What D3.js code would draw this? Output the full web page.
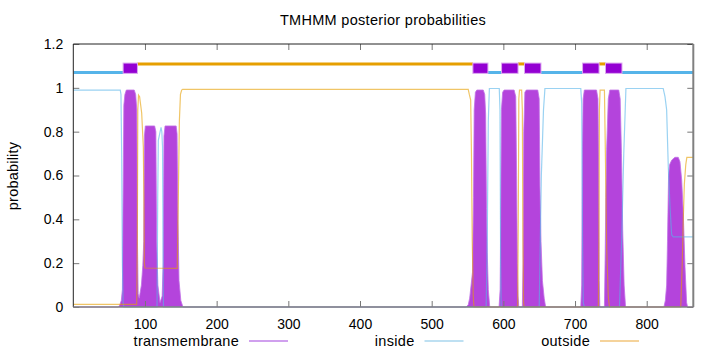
<!DOCTYPE html>
<html><head><meta charset="utf-8">
<script src="https://cdn.jsdelivr.net/npm/d3@7"></script>
<style>html,body{margin:0;padding:0;background:#fff;}svg{display:block;font-family:"Liberation Sans",Arial,sans-serif;}</style>
</head><body>
<svg id="c" width="720" height="352"></svg>
<script>
// ---- data ----
const titleText = "TMHMM posterior probabilities";
const yLabel = "probability";
const xTicks = [100,200,300,400,500,600,700,800];
const yTicks = [0,0.2,0.4,0.6,0.8,1,1.2];
const seqLength = 865;
const legendLabels = ["transmembrane","inside","outside"];

// transmembrane posterior (residue, probability)
const tmPos = [0,63,65,67,68.5,69.5,70.5,72,74,85,87,88.6,89.5,90.5,92,95,97,98.3,99.2,100.5,113.5,115.2,116.3,118,121,124,125.4,126.5,128,143.5,144.8,146,147.5,150,153,
  548,551,553,555,557,558.3,559.3,561,563,572,574,575.3,576.5,577.5,579,581,
  594,595.5,596.3,597.3,599,601,615,617.3,618.5,619.5,620.5,621.5,
  626.5,627.5,628.5,630,632,648,650,651,652.5,654.5,657,659,
  708,709.3,710.3,711.3,713,730,732,733,733.8,734.6,
  741,742,743,744.1,746.4,748.5,761,763,764.8,766.5,768.5,770.5,
  824,826,827.8,829,830.5,832,834.8,839.4,844,846.4,848.8,851,853.4,855.7,857,865];
const tmProb = [0,0,0.01,0.03,0.08,0.5,0.92,0.97,0.99,0.99,0.97,0.9,0.3,0.06,0.04,0.1,0.19,0.3,0.78,0.826,0.826,0.8,0.3,0.1,0.02,0.05,0.2,0.78,0.826,0.826,0.79,0.4,0.12,0.03,0,
  0,0.01,0.04,0.1,0.16,0.5,0.9,0.98,0.99,0.99,0.97,0.88,0.45,0.25,0.08,0,
  0,0.08,0.4,0.9,0.98,0.99,0.99,0.96,0.6,0.2,0.05,0,
  0,0.2,0.8,0.98,0.99,0.99,0.95,0.55,0.3,0.12,0.04,0,
  0,0.1,0.7,0.95,0.99,0.99,0.95,0.6,0.12,0,
  0,0.22,0.5,0.72,0.95,0.99,0.99,0.95,0.7,0.35,0.1,0,
  0,0.03,0.1,0.3,0.6,0.65,0.67,0.683,0.683,0.663,0.58,0.43,0.184,0.02,0,0];

// inside posterior
const inPos = [0,65.5,66.5,67.5,68.5,69.5,70.5,116.8,117.8,118.6,120.5,122.4,123.5,124.5,125.2,125.8,
  576,577.5,579,580.5,594.3,595.3,596.2,597,650,651.5,653,656,658,708,709.3,710.5,711.5,713,
  762,765,768,771,823,825.5,827.8,830.1,832.5,834.8,837,865];
const inProb = [0.99,0.99,0.97,0.7,0.2,0.02,0,0,0.5,0.76,0.79,0.82,0.8,0.73,0.3,0,
  0,0.3,0.85,0.997,0.997,0.9,0.2,0,0,0.3,0.6,0.9,0.997,0.997,0.93,0.3,0.02,0,
  0,0.3,0.7,0.997,0.997,0.96,0.9,0.64,0.457,0.33,0.32,0.32];

// outside posterior
const outPos = [0,88.5,89.3,90,91,92.5,95.4,97.7,98.5,99.1,100,145,146.5,148,149.5,151.2,152.6,
  551,552.5,554.4,555.5,556.6,558,559,620,620.8,621.6,622.5,625.5,626.5,627.3,628.2,629,
  732.5,733.3,734,735,741,742.2,744.1,746.4,748,847.5,849.6,851,852.5,854.5,856,865];
const outProb = [0.012,0.012,0.3,0.9,0.967,0.96,0.885,0.73,0.5,0.2,0.178,0.176,0.5,0.85,0.97,0.99,0.993,
  0.993,0.97,0.944,0.7,0.3,0.05,0,0,0.4,0.95,0.99,0.99,0.9,0.3,0.02,0,
  0,0.3,0.9,0.99,0.99,0.73,0.275,0.047,0,0,0.2,0.4,0.56,0.65,0.683,0.683];

// predicted topology (first residue, last residue, type)
const topoStart = [1,70,90,558,579,598,621,630,653,711,734,743,766];
const topoEnd   = [69,89,557,578,597,620,629,652,710,733,742,765,865];
const topoType  = ["inside","TMhelix","outside","TMhelix","inside","TMhelix","outside","TMhelix","inside","TMhelix","outside","TMhelix","inside"];

// ---- chart ----
const svg = d3.select("#c");
const L = 73.3, R = 693.3, T = 44, B = 307;
const x = d3.scaleLinear().domain([0, seqLength]).range([L, R]).clamp(true);
const y = d3.scaleLinear().domain([0, 1.2]).range([B, T]);
const font = 14;
const bigFont = 14.5;

const colTM = "#9400D3", colIn = "#56B4E9", colOut = "#E69F00";

svg.append("text").attr("x", 383).attr("y", 25).attr("text-anchor","middle")
  .attr("font-size", bigFont).attr("letter-spacing", 0.3).text(titleText);
svg.append("text").attr("transform","translate(18,176) rotate(-90)").attr("text-anchor","middle")
  .attr("font-size", bigFont).attr("letter-spacing", 0.2).text(yLabel);

// TM area (impulses)
const tmData = tmPos.map((p,i)=>[p, tmProb[i]]);
svg.append("path").datum(tmData)
  .attr("d", d3.area().x(d=>x(d[0])).y0(y(0)).y1(d=>y(d[1])))
  .attr("fill", "#b444dc");
svg.append("path").datum(tmData)
  .attr("d", d3.line().x(d=>x(d[0])).y(d=>y(d[1])))
  .attr("fill","none").attr("stroke","#c070e6").attr("stroke-width",0.8);

// inside / outside lines
const line = d3.line().x(d=>x(d[0])).y(d=>y(d[1]));
svg.append("path").datum(inPos.map((p,i)=>[p,inProb[i]]))
  .attr("d", line).attr("fill","none").attr("stroke", colIn).attr("stroke-opacity",0.6).attr("stroke-width",1.2);
svg.append("path").datum(outPos.map((p,i)=>[p,outProb[i]]))
  .attr("d", line).attr("fill","none").attr("stroke", colOut).attr("stroke-opacity",0.6).attr("stroke-width",1.2);

// topology bar
topoType.forEach((t,i)=>{
  const x0 = x(topoStart[i]-0.5), x1 = x(topoEnd[i]+0.5);
  if (t === "inside") {
    svg.append("line").attr("x1",x0).attr("x2",x1).attr("y1",y(1.07)).attr("y2",y(1.07))
      .attr("stroke",colIn).attr("stroke-width",3);
  } else if (t === "outside") {
    svg.append("line").attr("x1",x0).attr("x2",x1).attr("y1",y(1.109)).attr("y2",y(1.109))
      .attr("stroke",colOut).attr("stroke-width",3);
  }
});
topoType.forEach((t,i)=>{
  if (t !== "TMhelix") return;
  const x0 = x(topoStart[i]-0.5), x1 = x(topoEnd[i]+0.5);
  svg.append("rect").attr("x",x0).attr("y",y(1.113)).attr("width",x1-x0).attr("height",y(1.066)-y(1.113))
    .attr("fill",colTM).attr("stroke","#dca8f0").attr("stroke-width",1);
});

// axes
const gL = svg.append("g").attr("transform",`translate(${L},0)`)
  .call(d3.axisLeft(y).tickValues(yTicks).tickSize(-6).tickPadding(10).tickFormat(d3.format("~g")));
const gR = svg.append("g").attr("transform",`translate(${R},0)`)
  .call(d3.axisRight(y).tickValues(yTicks).tickSize(-6).tickFormat(""));
const gB = svg.append("g").attr("transform",`translate(0,${B})`)
  .call(d3.axisBottom(x).tickValues(xTicks).tickSize(-6).tickPadding(12).tickFormat(d3.format("d")));
const gT = svg.append("g").attr("transform",`translate(0,${T})`)
  .call(d3.axisTop(x).tickValues(xTicks).tickSize(-6).tickFormat(""));
[gL,gR,gB,gT].forEach(g=>{
  g.select(".domain").remove();
  g.selectAll(".tick line").attr("stroke","#777");
  g.selectAll("text").attr("font-size",font).attr("font-family",'"Liberation Sans",Arial,sans-serif').attr("fill","#000");
});

// frame
svg.append("line").attr("x1",L).attr("x2",L).attr("y1",T).attr("y2",B).attr("stroke","#222");
svg.append("line").attr("x1",L).attr("x2",R).attr("y1",T).attr("y2",T).attr("stroke","#222");
svg.append("line").attr("x1",R).attr("x2",R).attr("y1",T).attr("y2",B).attr("stroke","#808080").attr("stroke-width",2);
svg.append("line").attr("x1",L).attr("x2",R).attr("y1",B).attr("y2",B).attr("stroke","#808080").attr("stroke-width",1.5);

// legend
const legCols = ["#c080e8","#a8d6ee","#f2c47a"];
legendLabels.forEach((lab,i)=>{
  const xe = 239 + i*175.5;
  svg.append("text").attr("x",xe).attr("y",346).attr("text-anchor","end")
    .attr("font-size",bigFont).attr("letter-spacing",0.3).text(lab);
  svg.append("line").attr("x1",xe+10).attr("x2",xe+49).attr("y1",341).attr("y2",341)
    .attr("stroke",legCols[i]).attr("stroke-width",1.5);
});
</script>
</body></html>
